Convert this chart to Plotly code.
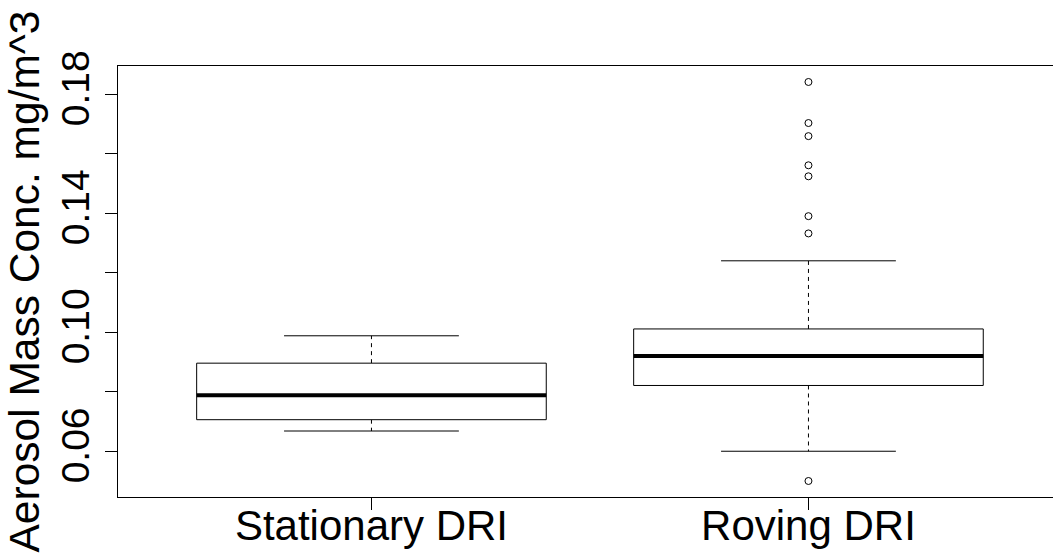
import plotly.graph_objects as go

# ---- data ----
categories = ["Stationary DRI", "Roving DRI"]
positions = [1, 2]
lower_whisker = [0.0668, 0.0600]
q1 = [0.0706, 0.0821]
median = [0.0788, 0.0920]
q3 = [0.0896, 0.1011]
upper_whisker = [0.0988, 0.1240]
outliers = [
    [],
    [0.1841, 0.1703, 0.1659, 0.1561, 0.1524, 0.1390, 0.1332, 0.0500],
]
y_tick_vals = [0.06, 0.08, 0.10, 0.12, 0.14, 0.16, 0.18]
y_tick_text = ["0.06", "", "0.10", "", "0.14", "", "0.18"]
y_title = "Aerosol Mass Conc. mg/m^3"

FONT = "Liberation Sans, Arial, sans-serif"
BOX_HALF = 0.4
STAPLE_HALF = 0.2
LINE = "black"

fig = go.Figure()

for i, p in enumerate(positions):
    # whiskers (dashed)
    fig.add_trace(go.Scatter(x=[p, p], y=[q3[i], upper_whisker[i]], mode="lines",
                             line=dict(color=LINE, width=1, dash="4px,4px"),
                             hoverinfo="skip", showlegend=False))
    fig.add_trace(go.Scatter(x=[p, p], y=[q1[i], lower_whisker[i]], mode="lines",
                             line=dict(color=LINE, width=1, dash="4px,4px"),
                             hoverinfo="skip", showlegend=False))
    # staples
    for w in (upper_whisker[i], lower_whisker[i]):
        fig.add_trace(go.Scatter(x=[p - STAPLE_HALF, p + STAPLE_HALF], y=[w, w], mode="lines",
                                 line=dict(color=LINE, width=1),
                                 hoverinfo="skip", showlegend=False))
    # box
    fig.add_trace(go.Scatter(
        x=[p - BOX_HALF, p + BOX_HALF, p + BOX_HALF, p - BOX_HALF, p - BOX_HALF],
        y=[q1[i], q1[i], q3[i], q3[i], q1[i]], mode="lines",
        fill="toself", fillcolor="white",
        line=dict(color=LINE, width=1), hoverinfo="skip", showlegend=False))
    # median
    fig.add_trace(go.Scatter(x=[p - BOX_HALF, p + BOX_HALF], y=[median[i], median[i]], mode="lines",
                             line=dict(color=LINE, width=4),
                             hoverinfo="skip", showlegend=False))
    # outliers
    if outliers[i]:
        fig.add_trace(go.Scatter(x=[p] * len(outliers[i]), y=outliers[i], mode="markers",
                                 marker=dict(symbol="circle-open", size=7,
                                             line=dict(color=LINE, width=1), color=LINE),
                                 hoverinfo="skip", showlegend=False))

fig.update_layout(
    width=1053, height=558,
    margin=dict(l=118, r=0, t=66, b=61, autoexpand=False),
    paper_bgcolor="white", plot_bgcolor="white",
    font=dict(family=FONT, color="black"),
    showlegend=False,
)
fig.update_xaxes(
    range=[0.42, 2.5596], tickvals=positions, ticktext=categories,
    showgrid=False, zeroline=False,
    showline=True, mirror=True, linecolor=LINE, linewidth=1,
    ticks="outside", ticklen=12, tickcolor=LINE, tickwidth=1,
    ticklabelstandoff=-20,
    tickfont=dict(size=42, family=FONT, color="black"),
)
fig.update_yaxes(
    range=[0.04462, 0.18947], tickvals=y_tick_vals, ticktext=y_tick_text,
    showgrid=False, zeroline=False,
    showline=True, mirror=False, linecolor=LINE, linewidth=1,
    ticks="outside", ticklen=12, tickcolor=LINE, tickwidth=1,
    tickangle=-90,
    tickfont=dict(size=39, family=FONT, color="black"),
)
fig.add_annotation(text=y_title, xref="paper", yref="paper", x=0, y=0.5,
                   xanchor="center", yanchor="middle", xshift=-94, textangle=-90,
                   showarrow=False, font=dict(size=42.5, family=FONT, color="black"))

fig.write_html("out.html")
